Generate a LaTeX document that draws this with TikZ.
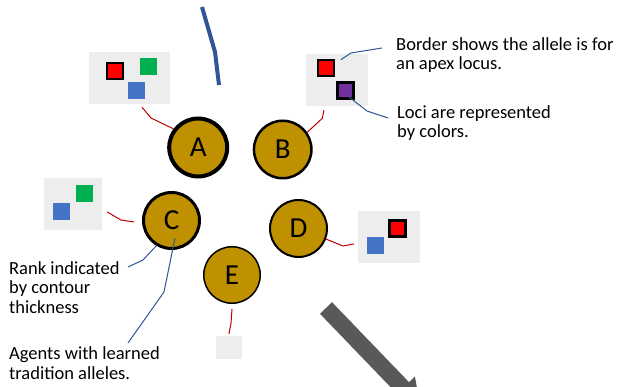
\documentclass[tikz,border=0pt]{standalone}
\usepackage{fontspec}
\setmainfont{Carlito}
\definecolor{agentgold}{HTML}{BF9000}
\definecolor{panelgray}{HTML}{EDEDED}
\definecolor{locusred}{HTML}{FF0000}
\definecolor{locusgreen}{HTML}{00B050}
\definecolor{locusblue}{HTML}{4472C4}
\definecolor{locuspurple}{HTML}{7030A0}
\definecolor{linkred}{HTML}{C00000}
\definecolor{calloutblue}{HTML}{2F5597}
\definecolor{arrowgray}{HTML}{595959}
\begin{document}
\begin{tikzpicture}[x=1pt,y=-1pt,
  agent/.style={circle, draw=black, fill=agentgold, inner sep=0pt,
    font=\fontsize{29}{29}\selectfont},
  panel/.style={fill=panelgray, inner sep=0pt},
  allele/.style={minimum size=17pt, inner sep=0pt},
  apex/.style={allele, draw=black, line width=2.5pt, minimum size=16pt},
  redlink/.style={draw=linkred, line width=1pt},
  bluelink/.style={draw=calloutblue, line width=1pt},
  note/.style={font=\fontsize{18.5}{19.5}\selectfont, align=left,
    anchor=base west, inner sep=0pt}]
\useasboundingbox (0,0) rectangle (619,387);
\clip (0,0) rectangle (619,387);

% allele panels
\node[panel, minimum width=81pt, minimum height=52pt] (boxA) at (129.5,78) {};
\node[panel, minimum width=62pt, minimum height=52pt] (boxB) at (337,80) {};
\node[panel, minimum width=58pt, minimum height=52pt] (boxC) at (73,204) {};
\node[panel, minimum width=62pt, minimum height=52pt] (boxD) at (389,237) {};
\node[panel, minimum width=26pt, minimum height=23pt] (boxE) at (229,347.5) {};

% alleles (colour = locus, black border = apex locus)
\node[apex, fill=locusred] (sqAred) at (115,71) {};
\node[allele, fill=locusgreen] (sqAgreen) at (148.5,66.5) {};
\node[allele, fill=locusblue] (sqAblue) at (136.5,90.5) {};
\node[apex, fill=locusred] (sqBred) at (326,68) {};
\node[apex, fill=locuspurple] (sqBpurple) at (345.5,90.5) {};
\node[allele, fill=locusgreen] (sqCgreen) at (84.5,193.5) {};
\node[allele, fill=locusblue] (sqCblue) at (61.5,211.5) {};
\node[apex, fill=locusred] (sqDred) at (397.5,228.5) {};
\node[allele, fill=locusblue] (sqDblue) at (375.5,245.5) {};

% agents, contour thickness = rank
\node[agent, line width=4pt, minimum size=58pt] (A) at (198.2,147.5) {A};
\node[agent, line width=2.5pt, minimum size=57.5pt] (B) at (282.7,149.5) {B};
\node[agent, line width=3pt, minimum size=56pt] (C) at (171.5,220.5) {C};
\node[agent, line width=2pt, minimum size=57pt] (D) at (298.5,228.5) {D};
\node[agent, line width=1.5pt, minimum size=56.5pt] (E) at (232,275) {E};

% agent to panel links
\draw[redlink] ([shift={(12.5,3)}]boxA.south) -- (151,118) -- (A.143);
\draw[redlink] ([shift={(-13,4)}]boxB.south) -- (322.3,118.3) -- (B.35);
\draw[redlink] ([shift={(5,8)}]boxC.east) -- (121,220) -- ([shift={(-8,1.5)}]C.west);
\draw[redlink] (D.-21) -- (343,246) -- ([shift={(-4,7)}]boxD.west);
\draw[redlink] ([shift={(0,5)}]E.south) -- (231,323) -- ([shift={(0,-2)}]boxE.north);

% captions (anchored at the baseline of their last line)
\node[note] (lblBorder) at (396,70) {Border shows the allele is for\\an apex locus.};
\node[note] (lblLoci) at (397,138) {Loci are represented\\by colors.};
\node[note] (lblRank) at (9,313.5) {Rank indicated\\by contour\\thickness};
\node[note] (lblAgents) at (9,379.5) {Agents with learned\\tradition alleles.};

% callout lines
\coordinate (borderTip) at (382,48);
\coordinate (lociTip) at (388,118);
\coordinate (rankTip) at (128,267);
\coordinate (agentsTip) at (128,343);
\draw[bluelink] ([shift={(5.5,1)}]sqBred.north east) -- (351,53) -- (borderTip);
\draw[bluelink] ([shift={(3.5,6.5)}]sqBpurple.center) -- (367,111) -- (lociTip);
\draw[bluelink] (rankTip) -- (143,260) -- (C.-121);
\draw[bluelink] (agentsTip) -- (164,292) -- ([shift={(3.5,17.5)}]C.center);

% thick stroke at the top
\draw[calloutblue, line width=4pt] (202,7) -- (215,52) -- (219,85);

% block arrow leaving the bottom edge
\fill[arrowgray] (332,302.2) -- (409,382.2) -- (414.9,376.6) -- (420.3,406)
  -- (391.1,399.4) -- (397,393.8) -- (320,313.8) -- cycle;
\end{tikzpicture}
\end{document}
